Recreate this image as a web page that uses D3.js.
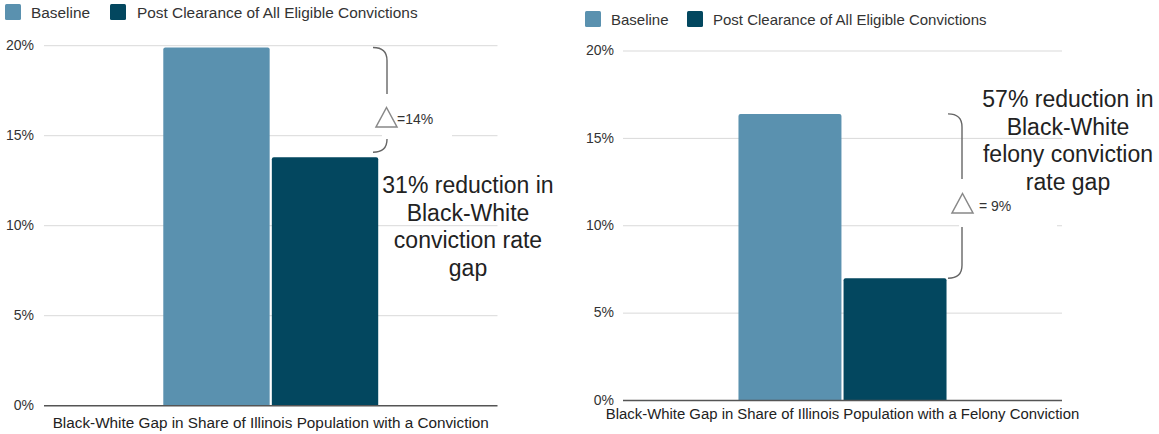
<!DOCTYPE html>
<html>
<head>
<meta charset="utf-8">
<script src="https://cdn.jsdelivr.net/npm/d3@7"></script>
<style>
  html, body { margin: 0; padding: 0; background: #fff; }
  svg { display: block; font-family: "Liberation Sans", Arial, sans-serif; }
</style>
</head>
<body>
<svg id="chart" width="1159" height="434"></svg>
<script>
// ---- data ----
const seriesNames = ["Baseline", "Post Clearance of All Eligible Convictions"];
const seriesColors = ["#5a91af", "#03475f"];
const yTicks = [0, 5, 10, 15, 20];
const leftCategory = ["Black-White Gap in Share of Illinois Population with a Conviction"];
const leftValues = [19.9, 13.8];
const leftDelta = "=14%";
const leftNote = ["31% reduction in", "Black-White", "conviction rate", "gap"];
const rightCategory = ["Black-White Gap in Share of Illinois Population with a Felony Conviction"];
const rightValues = [16.4, 7.0];
const rightDelta = "= 9%";
const rightNote = ["57% reduction in", "Black-White", "felony conviction", "rate gap"];

const svg = d3.select("#chart");

const panels = [
  { cat: leftCategory, vals: leftValues, delta: leftDelta, note: leftNote,
    x0: 44, x1: 497.5, yTop: 45.7, yBot: 405.7, tickX: 34,
    legendY: 12, legendX: [5, 110], legendTextX: [31, 137], legendFont: 15.4,
    xLabelY: 427.5, xLabelFont: 15.3, braceX: 387, braceEndX: 373, braceTopOff: 0, braceBotOff: -5,
    maskBox: [382, 94, 70, 45], triX: 376, triY: 107.5, deltaX: 397, deltaY: 123.5,
    noteX: 468, noteY: 193 },
  { cat: rightCategory, vals: rightValues, delta: rightDelta, note: rightNote,
    x0: 623, x1: 1062, yTop: 51, yBot: 400.5, tickX: 614,
    legendY: 19, legendX: [585, 687], legendTextX: [611, 713], legendFont: 15,
    xLabelY: 419, xLabelFont: 14.9, braceX: 962, braceEndX: 948, braceTopOff: 0, braceBotOff: 0,
    maskBox: [959, 179, 98, 48], triX: 952, triY: 193.5, deltaX: 979, deltaY: 211,
    noteX: 1068, noteY: 107 }
];

panels.forEach(p => {
  const g = svg.append("g");
  const y = d3.scaleLinear().domain([0, 20]).range([p.yBot, p.yTop]);
  const xb = d3.scaleBand().domain(p.cat).range([p.x0, p.x1]).paddingInner(0).paddingOuter(0.555);
  const xs = d3.scaleBand().domain(seriesNames).range([0, xb.bandwidth()]).paddingInner(0.02);

  // legend
  seriesNames.forEach((s, i) => {
    g.append("rect").attr("x", p.legendX[i]).attr("y", p.legendY - 8)
      .attr("width", 16).attr("height", 16).attr("rx", 1.5)
      .attr("fill", seriesColors[i]);
    g.append("text").attr("x", p.legendTextX[i]).attr("y", p.legendY + 5.5)
      .attr("font-size", p.legendFont).attr("fill", "#333").text(s);
  });

  // gridlines
  g.selectAll(".grid").data(yTicks.filter(t => t > 0)).enter().append("line")
    .attr("x1", p.x0).attr("x2", p.x1)
    .attr("y1", d => y(d)).attr("y2", d => y(d))
    .attr("stroke", "#d9d9d9").attr("stroke-width", 1);

  // y tick labels
  g.selectAll(".tl").data(yTicks).enter().append("text")
    .attr("x", p.tickX).attr("y", d => y(d)).attr("dy", "0.3em")
    .attr("text-anchor", "end").attr("font-size", 14).attr("fill", "#333")
    .text(d => d + "%");

  // bars
  p.vals.forEach((v, i) => {
    g.append("path")
      .attr("d", () => {
        const bx = xb(p.cat[0]) + xs(seriesNames[i]);
        const bw = xs.bandwidth();
        const top = y(v), bot = y(0), r = 2;
        return `M${bx},${bot} L${bx},${top + r} Q${bx},${top} ${bx + r},${top} L${bx + bw - r},${top} Q${bx + bw},${top} ${bx + bw},${top + r} L${bx + bw},${bot} Z`;
      })
      .attr("fill", seriesColors[i]);
  });

  // axis baseline
  g.append("line").attr("x1", p.x0).attr("x2", p.x1)
    .attr("y1", y(0)).attr("y2", y(0))
    .attr("stroke", "#555").attr("stroke-width", 1.5);

  // x category label
  g.append("text").attr("x", xb(p.cat[0]) + xb.bandwidth() / 2).attr("y", p.xLabelY)
    .attr("text-anchor", "middle").attr("font-size", p.xLabelFont).attr("fill", "#222")
    .text(p.cat[0]);

  // brace
  const bt = y(p.vals[0]) + p.braceTopOff, bb = y(p.vals[1]) + p.braceBotOff;
  const bx = p.braceX, be = p.braceEndX;
  g.append("path")
    .attr("d", `M${be},${bt} Q${bx},${bt} ${bx},${bt + 13} L${bx},${bb - 13} Q${bx},${bb} ${be},${bb}`)
    .attr("fill", "none").attr("stroke", "#666").attr("stroke-width", 1.4);

  // white box behind delta label
  g.append("rect").attr("x", p.maskBox[0]).attr("y", p.maskBox[1])
    .attr("width", p.maskBox[2]).attr("height", p.maskBox[3]).attr("fill", "#fff");

  // triangle
  g.append("path")
    .attr("d", `M${p.triX + 10.5},${p.triY} L${p.triX + 21},${p.triY + 19.5} L${p.triX},${p.triY + 19.5} Z`)
    .attr("fill", "#fff").attr("stroke", "#888").attr("stroke-width", 1.5);
  g.append("text").attr("x", p.deltaX).attr("y", p.deltaY)
    .attr("font-size", 14).attr("fill", "#333").text(p.delta);

  // note text
  g.append("text").attr("x", p.noteX).attr("y", p.noteY)
    .attr("text-anchor", "middle").attr("font-size", 23).attr("fill", "#222")
    .selectAll("tspan").data(p.note).enter().append("tspan")
    .attr("x", p.noteX).attr("dy", (d, i) => i === 0 ? 0 : 27.5)
    .text(d => d);
});
</script>
</body>
</html>
